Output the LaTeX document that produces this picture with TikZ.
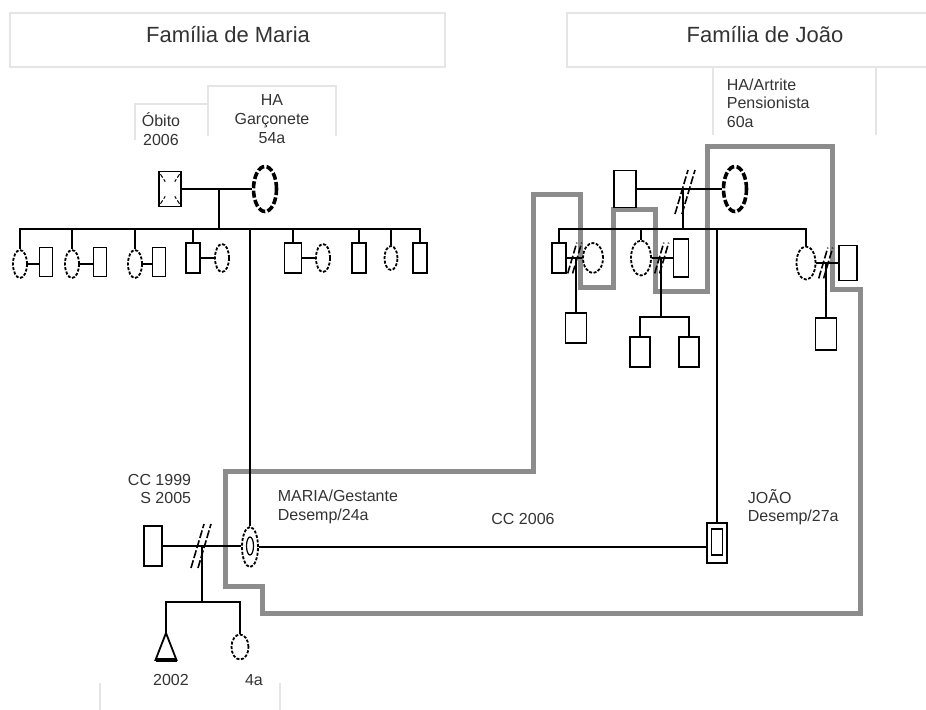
\documentclass[tikz,border=0pt]{standalone}
\usepackage{fontspec}
\setmainfont{Liberation Sans}
\usetikzlibrary{shapes.geometric,calc}

\begin{document}
\begin{tikzpicture}[x=0.5pt, y=-0.5pt, line width=0.9pt,
  font=\fontsize{8}{9.3}\selectfont,
  man/.style={draw, rectangle, inner sep=0pt, minimum width=7pt, minimum height=15pt},
  woman/.style={draw, ellipse, inner sep=0pt, dash pattern=on 1.5pt off 0.8pt, minimum width=7pt, minimum height=14pt},
  mother/.style={draw, ellipse, inner sep=0pt, line width=1.8pt, dash pattern=on 3.5pt off 1.2pt, minimum width=11.5pt, minimum height=22.5pt},
  slash/.style={line width=0.8pt, dash pattern=on 4pt off 1.2pt},
  divorce/.pic={\draw[slash] (-9,22) -- (4,-22); \draw[slash] (-2,22) -- (11,-22);},
  frame/.style={draw=black!10, line width=0.8pt},
  house/.style={draw=black!45, line width=2.5pt},
  txt/.style={text=black!80, align=center, inner sep=0pt}]
	\useasboundingbox (0,0) rectangle (926,710);
	% title boxes
	\draw[frame] (10,13) rectangle (445,67);
	\draw[frame] (926,13) -- (567,13) -- (567,67) -- (926,67);
	\node[txt, font=\fontsize{11}{13}\selectfont] (famM) at (228,35) {Família de Maria};
	\node[txt, font=\fontsize{11}{13}\selectfont] (famJ) at (765,35) {Família de João};
	\draw[frame] (135,140) |- (208,104);
	\draw[frame] (208,136) |- (336,86) -- (336,136);
	\draw[frame] (713,67) -- (713,135);
	\draw[frame] (876,67) -- (876,135);
	\draw[frame] (100,683) -- (100,710);
	\draw[frame] (280,683) -- (280,710);
	\node[txt] (obito) at (161,129) {Óbito\\2006};
	\node[txt] (mmomtxt) at (272,119) {HA\\Garçonete\\54a};
	\node[txt, align=left, anchor=west] (jmomtxt) at (726,103) {HA/Artrite\\Pensionista\\60a};

	% household
	\draw[house] (225,472) -- (225,587) -- (262,587) -- (262,613) -- (860,613) -- (860,290)
	  -- (832,290) -- (832,147) -- (707,147) -- (707,292) -- (655,292) -- (655,210)
	  -- (613,210) -- (613,288) -- (580,288) -- (580,195) -- (533,195) -- (533,472) -- cycle;

	% Maria's parents and siblings
	\node[man, minimum width=11pt, minimum height=17.5pt] (mdad) at (170,189) {};
	\foreach \c in {north west, north east, south west, south east}
	  \draw[line width=0.5pt, dash pattern=on 2pt off 1pt] ($(mdad.\c)!0.2!(mdad.center)$) -- ($(mdad.\c)!0.6!(mdad.center)$);
	\node[mother] (mmom) at (265,189) {};
	\draw (mdad) -- (mmom);
	\coordinate (mline) at (219,229);
	\draw (mline) -- (mline |- mdad);
	\node[woman] (c1) at (20,264) {};
	\node[man, minimum width=6.5pt, minimum height=14.5pt] (c1p) at (46,262) {};
	\node[woman] (c2) at (72,264) {};
	\node[man, minimum width=6.5pt, minimum height=14.5pt] (c2p) at (100,262) {};
	\node[woman] (c3) at (135,264) {};
	\node[man, minimum width=6.5pt, minimum height=14.5pt] (c3p) at (159,262) {};
	\node[man] (c4) at (193,258) {};
	\node[woman] (c4p) at (222,258) {};
	\node[man, minimum width=8.5pt] (c5) at (293,258) {};
	\node[woman] (c5p) at (323,258) {};
	\node[man] (c6) at (359,258) {};
	\node[woman, minimum width=6.5pt, minimum height=12pt] (c7) at (391,258) {};
	\node[man] (c8) at (420,258) {};
	\foreach \k in {c1,c2,c3,c4,c5,c6,c7,c8}
	  \draw (\k) |- (mline);
	\foreach \k in {c1,c2,c3,c4,c5}
	  \draw (\k.east) -- (\k.east -| \k p.west);

	% Joao's parents and siblings
	\node[man, minimum width=11pt, minimum height=18.5pt] (jdad) at (625,189) {};
	\node[mother] (jmom) at (735,189) {};
	\draw (jdad) -- (jmom);
	\coordinate (jline) at (683,229);
	\draw (jline) -- (jline |- jdad);
	\pic at (684,192) {divorce};
	\node[man] (j1) at (559,258) {};
	\node[woman, minimum width=10pt, minimum height=15pt] (j1p) at (593,258) {};
	\node[woman, minimum width=10pt, minimum height=17.5pt] (j2) at (641,258) {};
	\node[man, minimum width=7.5pt, minimum height=19pt] (j2p) at (681,258) {};
	\node[woman, minimum width=9.5pt, minimum height=16.5pt] (j3) at (806,263) {};
	\node[man, minimum width=9pt, minimum height=17.5pt] (j3p) at (848,263) {};
	\foreach \k in {j1,j2,j3}
	  \draw (\k) |- (jline);
	\foreach \k in {j1,j2,j3}
	  \draw (\k) -- (\k p);
	\pic[scale=0.7] at (574,258) {divorce};
	\pic[scale=0.7] at (661,258) {divorce};
	\pic[scale=0.7] at (825,263) {divorce};
	\node[man, minimum width=10.5pt, minimum height=15pt] (j1c) at (576,328) {};
	\draw (j1c) -- (j1c |- j1);
	\coordinate (j2k) at (661,317);
	\draw (j2k) -- (j2k |- j2);
	\node[man, minimum width=10pt, minimum height=15pt] (j2c1) at (640,352) {};
	\node[man, minimum width=10pt, minimum height=15pt] (j2c2) at (689,352) {};
	\draw (j2c1) |- (j2k);
	\draw (j2c2) |- (j2k);
	\node[man, minimum width=10.5pt, minimum height=16pt] (j3c) at (826,334) {};
	\draw (j3c) -- (j3c |- j3);

	% Maria and Joao
	\node[woman, minimum width=8pt, minimum height=20pt] (maria) at (250,547) {};
	\node[draw, ellipse, inner sep=0pt, line width=0.6pt, minimum width=3.5pt, minimum height=9pt] (mariain) at (250,546) {};
	\node[man, minimum width=10pt, minimum height=20pt] (joao) at (717,543) {};
	\node[man, line width=0.7pt, minimum width=5.5pt, minimum height=13pt] (joaoin) at (717,542) {};
	\draw (maria) |- (mline);
	\draw (joao) |- (jline);
	\draw (maria.east) -- (maria.east -| joao.west);
	\node[man, minimum width=9pt, minimum height=20pt] (ex) at (153,546) {};
	\draw (ex.east) -- (ex.east -| maria.west);
	\pic at (200,546) {divorce};
	\coordinate (mk) at (202,602);
	\draw (mk) -- (mk |- ex);
	\coordinate (son) at (166,633);
	\draw (son) -- ++(10.5,27) -- ++(-21,0) -- cycle;
	\draw[line width=1.8pt] ($(son)+(-10.5,27)$) -- ++(21,0);
	\node[woman, minimum width=8.5pt, minimum height=12.5pt] (dau) at (240,647) {};
	\draw (son) |- (mk);
	\draw (dau) |- (mk);

	% labels
	\node[txt, align=right, anchor=east] (cc99) at (192,489) {CC 1999\\S 2005};
	\node[txt, align=left, anchor=west] (mariatxt) at (277,507) {MARIA/Gestante\\Desemp/24a};
	\node[txt] (cc06) at (523,519) {CC 2006};
	\node[txt, align=left, anchor=west] (joaotxt) at (747,507) {JOÃO\\Desemp/27a};
	\node[txt] (sontxt) at (171,680) {2002};
	\node[txt] (dautxt) at (254,680) {4a};
\end{tikzpicture}
\end{document}
